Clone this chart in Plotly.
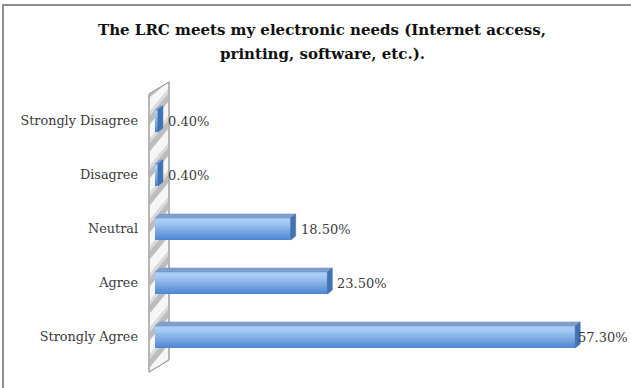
import plotly.graph_objects as go

# ---- data -------------------------------------------------------------
categories = ["Strongly Disagree", "Disagree", "Neutral", "Agree", "Strongly Agree"]
percent = [0.4, 0.4, 18.5, 23.5, 57.3]
value_labels = ["0.40%", "0.40%", "18.50%", "23.50%", "57.30%"]
title_lines = [
    "The LRC meets my electronic needs (Internet access,",
    "printing, software, etc.).",
]

# ---- geometry / style -------------------------------------------------
W, H = 631, 388
M_L, M_R, M_T, M_B = 155, 36, 94, 24
X_MAX = 60
plot_w = W - M_L - M_R
plot_h = H - M_T - M_B
px_per_unit = plot_w / X_MAX
BAR_W = 0.41                      # bar thickness in category units
half_px = BAR_W / 2 * plot_h / len(categories)
DEPTH_X, DEPTH_Y = 5, 4           # pseudo-3D extrusion in pixels
FONT = "DejaVu Serif"

# top category drawn at the top of the axis
ypos = [len(categories) - 1 - i for i in range(len(categories))]


def lerp(c0, c1, t):
    return "#%02x%02x%02x" % tuple(round(a + (b - a) * t) for a, b in zip(c0, c1))


DARK, LIGHT = (0x52, 0x88, 0xd3), (0xaa, 0xcd, 0xf8)

fig = go.Figure()

# front faces: stacked bands give a vertical gradient (dark bottom -> light top)
N_BANDS = 12
for k in range(N_BANDS):
    t = k / (N_BANDS - 1)
    w = BAR_W * (1 - k / N_BANDS)
    fig.add_trace(go.Bar(
        x=percent, y=ypos, orientation="h", base=0,
        width=w, offset=-BAR_W / 2 + BAR_W * k / N_BANDS,
        marker=dict(color=lerp(DARK, LIGHT, min(1, t * 1.15)), line=dict(width=0)),
        showlegend=False, hoverinfo="skip",
    ))

shapes = []

# back wall with diagonal hatching (paper-anchored so it is not clipped)
wall_l, wall_r = -6, 14
wall_bl, wall_br, wall_tl, wall_tr = -8, 4, plot_h, plot_h + 12
wall_common = dict(type="path", xref="paper", yref="paper",
                   xsizemode="pixel", ysizemode="pixel", xanchor=0, yanchor=0,
                   layer="below")
shapes.append(dict(
    wall_common,
    path=f"M {wall_l},{wall_bl} L {wall_r},{wall_br} L {wall_r},{wall_tr} L {wall_l},{wall_tl} Z",
    fillcolor="#f6f6f6", line=dict(color="#a8a8a8", width=1),
))
period, rise = 27, 22
for band_w, col in ((13, "#dadada"), (8, "#bdbdbd")):
    a = wall_bl - rise
    while a < wall_tl:
        ly0 = min(max(a, wall_bl), wall_tl)
        ly1 = min(max(a + band_w, wall_bl), wall_tl)
        ry0 = min(max(a + rise, wall_br), wall_tr)
        ry1 = min(max(a + rise + band_w, wall_br), wall_tr)
        if ly1 > ly0 or ry1 > ry0:
            shapes.append(dict(
                wall_common,
                path=f"M {wall_l + 1},{ly0} L {wall_r - 1},{ry0} L {wall_r - 1},{ry1} L {wall_l + 1},{ly1} Z",
                fillcolor=col, line=dict(width=0),
            ))
        a += period
# wall edges on top of hatching
shapes.append(dict(
    wall_common,
    path=f"M {wall_l},{wall_bl} L {wall_r},{wall_br} L {wall_r},{wall_tr} L {wall_l},{wall_tl} Z",
    fillcolor="rgba(0,0,0,0)", line=dict(color="#9a9a9a", width=1),
))

# top and side faces of each bar
dx_data = DEPTH_X / px_per_unit
for v, y in zip(percent, ypos):
    shapes.append(dict(
        type="path", xref="x", yref="y", ysizemode="pixel", yanchor=y,
        path=(f"M 0,{half_px} L {v},{half_px} L {v + dx_data},{half_px + DEPTH_Y} "
              f"L {dx_data},{half_px + DEPTH_Y} Z"),
        fillcolor="#7f9fcf", line=dict(color="#6d8fc2", width=0.5), layer="above",
    ))
    shapes.append(dict(
        type="path", xref="x", yref="y", xsizemode="pixel", ysizemode="pixel",
        xanchor=v, yanchor=y,
        path=(f"M 0,{-half_px} L 0,{half_px} L {DEPTH_X},{half_px + DEPTH_Y} "
              f"L {DEPTH_X},{-half_px + DEPTH_Y} Z"),
        fillcolor="#4372b4", line=dict(color="#3d6aa8", width=0.5), layer="above",
    ))

# chart frame (top and left edges)
fx = (3 - M_L) / plot_w
fy = (H - M_B - 5) / plot_h
shapes.append(dict(
    type="path", xref="paper", yref="paper",
    path=f"M {fx},{-1} L {fx},{fy} L {2},{fy}",
    line=dict(color="#8e8e8e", width=2), fillcolor="rgba(0,0,0,0)",
))

annotations = []
# value labels
for v, y, lab in zip(percent, ypos, value_labels):
    shift = DEPTH_X + 3 if v < 0.9 * X_MAX else 1
    annotations.append(dict(
        x=v, y=y, xref="x", yref="y", text=lab, showarrow=False,
        xanchor="left", yanchor="middle", xshift=shift,
        font=dict(family=FONT, size=13, color="#3c3c3c"),
    ))

# two-line title
title_cx = (322 - M_L) / plot_w
for i, line in enumerate(title_lines):
    py = 30 + 24 * i
    annotations.append(dict(
        x=title_cx, y=(H - M_B - py) / plot_h, xref="paper", yref="paper",
        text=f"<b>{line}</b>", showarrow=False, xanchor="center", yanchor="middle",
        font=dict(family=FONT, size=15, color="#111111"),
    ))

fig.update_layout(
    width=W, height=H, margin=dict(l=M_L, r=M_R, t=M_T, b=M_B),
    paper_bgcolor="white", plot_bgcolor="rgba(0,0,0,0)",
    barmode="overlay", showlegend=False,
    shapes=shapes, annotations=annotations,
    xaxis=dict(range=[0, X_MAX], visible=False, fixedrange=True),
    yaxis=dict(
        range=[-0.5, len(categories) - 0.5], tickvals=ypos, ticktext=categories,
        showgrid=False, zeroline=False, showline=False, ticks="",
        ticklabelstandoff=16, tickfont=dict(family=FONT, size=12.8, color="#3a3a3a"),
        fixedrange=True,
    ),
)

fig.write_html("out.html")
